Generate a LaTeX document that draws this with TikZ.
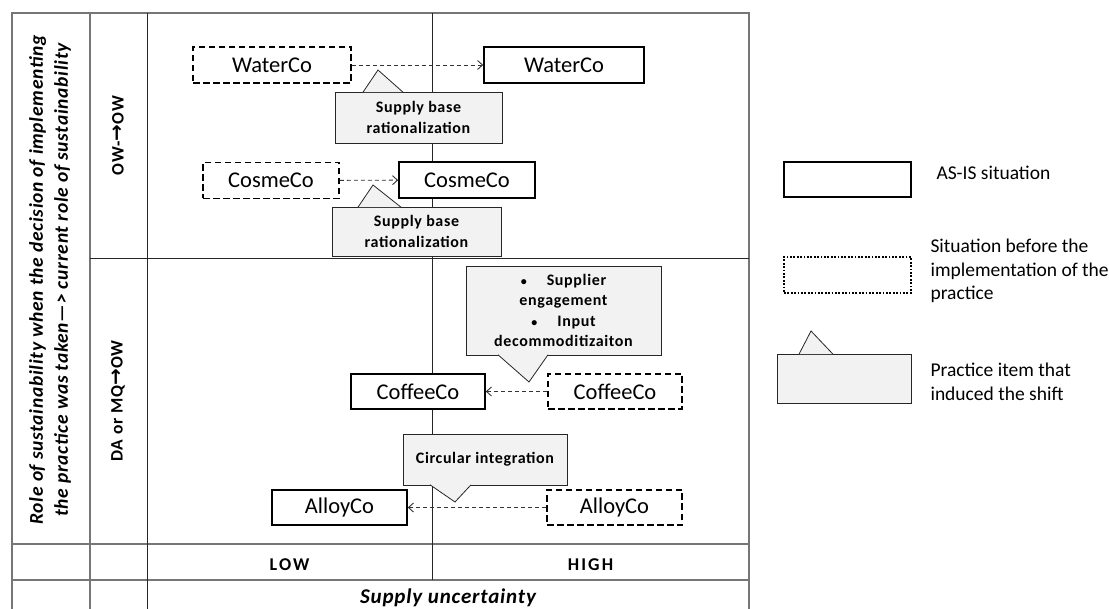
\documentclass[tikz,border=0pt]{standalone}
\usepackage{fontspec}
\setmainfont{Carlito}
\newfontfamily\arrowfont{DejaVu Sans}
\usetikzlibrary{arrows.meta}
\definecolor{PRACTICE}{HTML}{F2F2F2}
\definecolor{GRID}{HTML}{767676}

\tikzset{
  asis/.style={draw=black, fill=white, line width=1.6pt, minimum height=36pt, inner sep=0pt, font=\fontsize{22.5}{26}\selectfont},
  before/.style={asis, dash pattern=on 6.5pt off 3.5pt},
  practice/.style={draw=black!85, fill=PRACTICE, line width=0.8pt, inner sep=0pt, align=center,
    font=\fontsize{16}{20.5}\selectfont\bfseries\addfontfeatures{LetterSpace=4}},
  practicetip/.style={draw=black!85, fill=PRACTICE, line width=0.8pt, line join=miter},
  shiftarrow/.style={draw=black!80, line width=0.9pt, dash pattern=on 4pt off 3pt, -{Straight Barb[length=5pt,width=9pt]}},
  gridline/.style={draw=GRID, line width=1.4pt},
  axisline/.style={draw=black!85, line width=0.9pt},
  rolelabel/.style={rotate=90, font=\fontsize{17.5}{20}\selectfont\bfseries\addfontfeatures{LetterSpace=5}},
  axislabel/.style={anchor=base, font=\fontsize{18}{20}\selectfont\bfseries\addfontfeatures{LetterSpace=12}},
  legendtext/.style={anchor=west, align=left, font=\fontsize{19.5}{23.5}\selectfont},
}
\newcommand{\smallbullet}{{\fontsize{12}{12}\selectfont\textbullet}}
\newcommand{\shiftsign}{{\arrowfont\bfseries\fontsize{20}{20}\selectfont →}}

\begin{document}
\begin{tikzpicture}[x=1pt, y=-1pt]
    \useasboundingbox (0,0) rectangle (1109,609);

    % table
    \draw[gridline] (12,609) -- (12,13) -- (749,13) -- (749,609);
    \draw[gridline] (90,13) -- (90,609);
    \draw[gridline] (12,544) -- (749,544);
    \draw[gridline] (12,580) -- (749,580);
    \draw[axisline] (147,13) -- (147,609);
    \draw[axisline] (90,258) -- (749,258);
    \draw[axisline] (432,13) -- (432,580);

    % headers
    \node[rotate=90, align=center, font=\fontsize{19.5}{25}\selectfont\bfseries\itshape\addfontfeatures{LetterSpace=3.5}] (role) at (50,280)
        {Role of sustainability when the decision of implementing\\the practice was taken---> current role of sustainability};
    \node[rolelabel] (owow) at (118,135.5) {OW-\shiftsign OW};
    \node[rolelabel] (daow) at (118,401) {DA or MQ\shiftsign OW};
    \node[axislabel] (low) at (289.5,570) {LOW};
    \node[axislabel] (high) at (590.5,570) {HIGH};
    \node[anchor=base, font=\fontsize{21}{24}\selectfont\bfseries\itshape\addfontfeatures{LetterSpace=4}] (uncertainty) at (448,603) {Supply uncertainty};

    % companies
    \node[before, minimum width=158pt] (waterbefore) at (272,65) {WaterCo};
    \node[asis, minimum width=160pt] (waterasis) at (564,65) {WaterCo};
    \draw[shiftarrow] (waterbefore) -- (waterasis);
    \node[practice, minimum width=167pt, minimum height=51pt] (waterpractice) at (418.5,117.5) {Supply base\\rationalization};
    \coordinate (watertip) at (378,70);
    \filldraw[practicetip] ([xshift=-55.5pt, yshift=-0.6pt]waterpractice.north) -- (watertip) -- ([xshift=-15.5pt, yshift=-0.6pt]waterpractice.north);

    \node[before, minimum width=136pt] (cosmebefore) at (271,180.5) {CosmeCo};
    \node[asis, minimum width=136pt] (cosmeasis) at (467,180) {CosmeCo};
    \draw[shiftarrow] (cosmebefore) -- (cosmeasis);
    \node[practice, minimum width=169pt, minimum height=49pt] (cosmepractice) at (416.5,231.5) {Supply base\\rationalization};
    \coordinate (cosmetip) at (373,185);
    \filldraw[practicetip] ([xshift=-58.5pt, yshift=-0.6pt]cosmepractice.north) -- (cosmetip) -- ([xshift=-15.5pt, yshift=-0.6pt]cosmepractice.north);

    \node[asis, minimum width=134pt, minimum height=35pt] (coffeeasis) at (418,391.5) {CoffeeCo};
    \node[before, minimum width=134pt, minimum height=35pt] (coffeebefore) at (615,391.5) {CoffeeCo};
    \draw[shiftarrow] (coffeebefore) -- (coffeeasis);
    \node[practice, minimum width=195pt, minimum height=89pt] (coffeepractice) at (563.5,310.5)
        {\smallbullet\hspace{20pt}Supplier\\engagement\\\smallbullet\hspace{20pt}Input\\decommoditizaiton};
    \coordinate (coffeetip) at (529,382);
    \filldraw[practicetip] ([xshift=-65.5pt, yshift=0.6pt]coffeepractice.south) -- (coffeetip) -- ([xshift=-15.5pt, yshift=0.6pt]coffeepractice.south);

    \node[asis, minimum width=135pt, minimum height=35pt] (alloyasis) at (339.5,507.5) {AlloyCo};
    \node[before, minimum width=135pt, minimum height=35pt] (alloybefore) at (614.5,507.5) {AlloyCo};
    \draw[shiftarrow] (alloybefore) -- (alloyasis);
    \node[practice, minimum width=164pt, minimum height=51pt] (alloypractice) at (485,459.5) {Circular integration};
    \coordinate (alloytip) at (455,502);
    \filldraw[practicetip] ([xshift=-55pt, yshift=0.6pt]alloypractice.south) -- (alloytip) -- ([xshift=-14pt, yshift=0.6pt]alloypractice.south);

    % legend
    \node[asis, minimum width=127pt, minimum height=35pt] (legasis) at (847.5,179.5) {};
    \node[legendtext, anchor=base west] (legasistext) at (933,180) {AS-IS situation};
    \node[asis, minimum width=127pt, minimum height=36pt, line width=1.8pt, dash pattern=on 1.8pt off 1.6pt] (legbefore) at (847.5,275) {};
    \node[legendtext] (legbeforetext) at (927,271) {Situation before the\\implementation of the\\practice};
    \node[practice, minimum width=134pt, minimum height=49pt] (legpractice) at (844,378.5) {};
    \coordinate (legtip) at (811,331);
    \filldraw[practicetip] ([xshift=-45pt, yshift=-0.6pt]legpractice.north) -- (legtip) -- ([xshift=-11pt, yshift=-0.6pt]legpractice.north);
    \node[legendtext] (legpracticetext) at (927,382) {Practice item that\\induced the shift};
\end{tikzpicture}
\end{document}
